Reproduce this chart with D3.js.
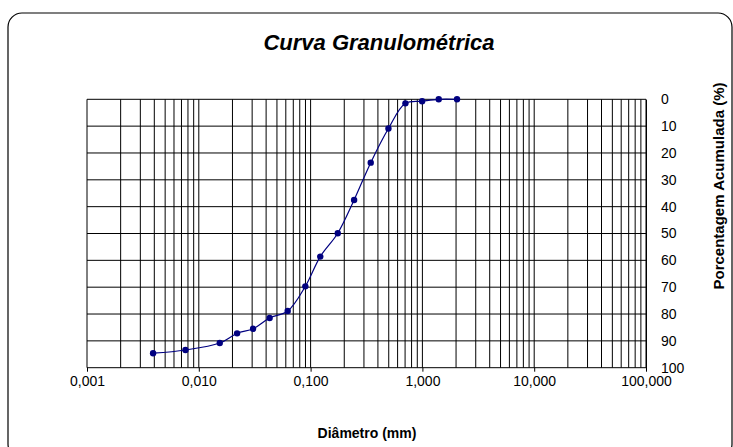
<!DOCTYPE html>
<html><head><meta charset="utf-8">
<script src="https://cdn.jsdelivr.net/npm/d3@7"></script>
<style>body{margin:0;background:#fff}svg{display:block}</style>
</head><body>
<svg id="c" width="733" height="447"></svg>
<script>
const diameters = [0.0039, 0.0076, 0.0154, 0.022, 0.0306, 0.043, 0.0624, 0.0897, 0.122, 0.175, 0.245, 0.345, 0.497, 0.705, 0.994, 1.40, 2.04];
const passing   = [94.6, 93.4, 90.8, 87.2, 85.5, 81.5, 78.9, 69.7, 58.6, 49.9, 37.5, 23.6, 10.9, 1.5, 0.7, 0.0, 0.0];
const xTicks = [0.001, 0.01, 0.1, 1, 10, 100];
const xTickLabels = ["0,001", "0,010", "0,100", "1,000", "10,000", "100,000"];
const yTicks = [0, 10, 20, 30, 40, 50, 60, 70, 80, 90, 100];

const svg = d3.select("#c");
const L = 87, R = 646, T = 99.3, B = 367.7;
const x = d3.scaleLog().domain([0.001, 100]).range([L, R]);
const y = d3.scaleLinear().domain([0, 100]).range([T, B]);
const font = "'Liberation Sans', Arial, sans-serif";

svg.append("rect").attr("x", 8).attr("y", 13).attr("width", 724).attr("height", 445)
  .attr("rx", 14).attr("fill", "#fff").attr("stroke", "#000").attr("stroke-width", 1.2);

svg.append("text").attr("x", 379).attr("y", 50).attr("text-anchor", "middle")
  .attr("font-family", font).attr("font-weight", "bold").attr("font-style", "italic")
  .attr("font-size", 22).text("Curva Granulométrica");

// minor + major vertical grid
const vlines = [];
for (let e = -3; e < 2; e++) for (let m = 1; m <= 9; m++) vlines.push(m * Math.pow(10, e));
vlines.push(100);
const g = svg.append("g");
g.selectAll(".v").data(vlines).enter().append("line")
  .attr("x1", d => x(d)).attr("x2", d => x(d)).attr("y1", T).attr("y2", B)
  .attr("stroke", "#000").attr("stroke-width", 1);
g.selectAll(".h").data(yTicks).enter().append("line")
  .attr("x1", L).attr("x2", R).attr("y1", d => y(d)).attr("y2", d => y(d))
  .attr("stroke", "#000").attr("stroke-width", 1);

// x axis
const xAxis = d3.axisBottom(x).tickValues(xTicks).tickSize(4).tickPadding(4)
  .tickFormat((d, i) => xTickLabels[i]);
const xa = svg.append("g").attr("transform", `translate(0,${B})`).call(xAxis);
xa.select(".domain").remove();
xa.selectAll("text").attr("font-family", font).attr("font-size", 14).attr("fill", "#000");
xa.selectAll("line").attr("stroke", "#000");

// y axis right
const yAxis = d3.axisRight(y).tickValues(yTicks).tickSize(0).tickPadding(15);
const ya = svg.append("g").attr("transform", `translate(${R},0)`).call(yAxis);
ya.select(".domain").attr("stroke", "#000");
ya.selectAll("text").attr("font-family", font).attr("font-size", 14).attr("fill", "#000");

// series
const pts = diameters.map((d, i) => [d, passing[i]]);
const line = d3.line().x(d => x(d[0])).y(d => y(d[1])).curve(d3.curveCatmullRom.alpha(0.5));
svg.append("path").attr("d", line(pts)).attr("fill", "none").attr("stroke", "#000080").attr("stroke-width", 1.2);
svg.selectAll(".pt").data(pts).enter().append("circle")
  .attr("cx", d => x(d[0])).attr("cy", d => y(d[1])).attr("r", 3.2).attr("fill", "#000080");

svg.append("text").attr("x", 367).attr("y", 438).attr("text-anchor", "middle")
  .attr("font-family", font).attr("font-weight", "bold").attr("font-size", 14).text("Diâmetro (mm)");
svg.append("text").attr("transform", "translate(724,186) rotate(-90)").attr("text-anchor", "middle")
  .attr("font-family", font).attr("font-weight", "bold").attr("font-size", 15).text("Porcentagem Acumulada (%)");
</script>
</body></html>
